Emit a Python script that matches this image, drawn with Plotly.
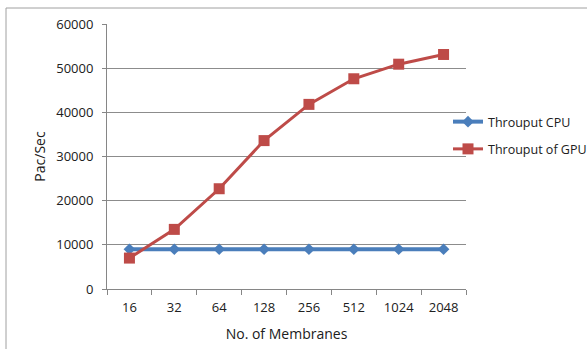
import plotly.graph_objects as go

membranes = ["16", "32", "64", "128", "256", "512", "1024", "2048"]
cpu_throughput = [9000, 9000, 9000, 9000, 9000, 9000, 9000, 9000]
gpu_throughput = [7000, 13500, 22700, 33600, 41800, 47600, 50900, 53100]
y_ticks = [0, 10000, 20000, 30000, 40000, 50000, 60000]

W, H = 587, 349
L, R, T, B = 107, 121, 24, 60
pw, ph = W - L - R, H - T - B

font_family = "Open Sans, Liberation Sans, sans-serif"

fig = go.Figure()
fig.add_trace(go.Scatter(
    x=membranes, y=cpu_throughput, name="Throuput CPU", mode="lines+markers",
    legendgroup="cpu",
    line=dict(color="#4a7ebb", width=4),
    marker=dict(symbol="diamond", size=9, color="#4a7ebb"),
))
fig.add_trace(go.Scatter(
    x=membranes, y=gpu_throughput, name="Throuput of GPU", mode="lines+markers",
    legendgroup="gpu",
    line=dict(color="#be4b48", width=3),
    marker=dict(symbol="square", size=11, color="#be4b48"),
))

# outer chart frame
fig.add_shape(type="rect", xref="paper", yref="paper",
              x0=(6 - L) / pw, x1=(W + 20 - L) / pw,
              y0=-(H + 20 - T - ph) / ph, y1=(H - 8 - B) / ph,
              line=dict(color="#a0a0a0", width=1), layer="below")

fig.update_layout(
    width=W, height=H,
    margin=dict(l=L, r=R, t=T, b=B, autoexpand=False),
    paper_bgcolor="white", plot_bgcolor="white",
    font=dict(family=font_family, size=13, color="#202020"),
    showlegend=True,
    legend=dict(x=(448 - L) / pw, y=(289 - 107) / ph, xanchor="left", yanchor="top",
                font=dict(size=12.5, color="#202020"), bgcolor="rgba(0,0,0,0)",
                tracegroupgap=8, itemwidth=30),
    xaxis=dict(
        type="category", tickson="boundaries", ticks="outside", ticklen=5,
        tickcolor="#868686", showline=True, linecolor="#868686", linewidth=1,
        showgrid=False, tickfont=dict(size=13), ticklabelstandoff=6,
        title=dict(text="No. of Membranes", font=dict(size=14), standoff=14),
        range=[-0.5, len(membranes) - 0.5],
    ),
    yaxis=dict(
        range=[0, 60000], tickvals=y_ticks, tickformat="d", ticks="outside", ticklen=4,
        tickcolor="#868686", showline=True, linecolor="#868686", linewidth=1,
        showgrid=True, gridcolor="#8c8c8c", gridwidth=1, zeroline=False,
        tickfont=dict(size=13), ticklabelstandoff=6,
        title=dict(text="Pac/Sec", font=dict(size=14), standoff=7),
    ),
)

fig.write_html("out.html")
